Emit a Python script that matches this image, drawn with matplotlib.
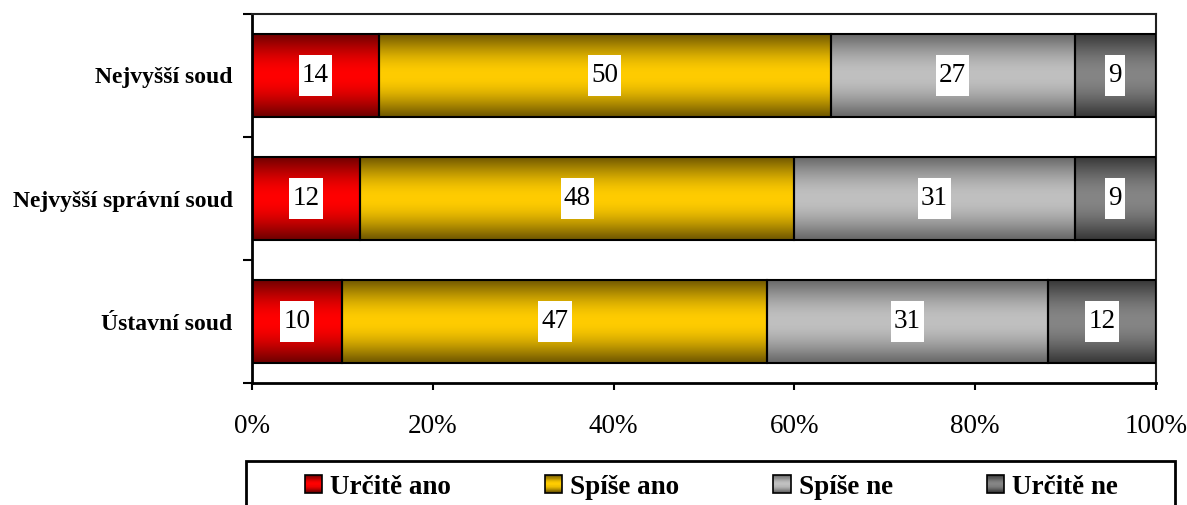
import matplotlib
matplotlib.use('Agg')
import matplotlib.pyplot as plt
import numpy as np
from matplotlib.path import Path
from matplotlib.patches import Rectangle
from matplotlib.legend_handler import HandlerPatch

plt.rcParams['font.family'] = ['Liberation Serif', 'DejaVu Serif']

# data
courts = ['Nejvyšší soud', 'Nejvyšší správní soud', 'Ústavní soud']
answers = ['Určitě ano', 'Spíše ano', 'Spíše ne', 'Určitě ne']
urcite_ano = [14, 12, 10]
spise_ano = [50, 48, 47]
spise_ne = [27, 31, 31]
urcite_ne = [9, 9, 12]
values = [urcite_ano, spise_ano, spise_ne, urcite_ne]
x_ticks = [0, 20, 40, 60, 80, 100]
x_labels = ['0%', '20%', '40%', '60%', '80%', '100%']

# (edge colour, centre colour) of the vertical gradients
grads = [('#700000', '#ff0000'),
         ('#705800', '#ffcc00'),
         ('#686868', '#c0c0c0'),
         ('#383838', '#858585')]


def gradient_img(edge, centre, n=64):
    e = np.array(matplotlib.colors.to_rgb(edge))
    c = np.array(matplotlib.colors.to_rgb(centre))
    t = np.linspace(0, 1, n)
    f = np.sin(np.pi * t) ** 1.1
    return (e[None, :] + (c - e)[None, :] * f[:, None])[:, None, :]


def label_box(x0, y0, width, height, mutation_size):
    px = 0.12 * mutation_size
    py = 0.30 * mutation_size
    x0, y0 = x0 - px, y0 - py
    x1, y1 = x0 + width + 2 * px, y0 + height + 2 * py
    return Path([(x0, y0), (x1, y0), (x1, y1), (x0, y1), (x0, y0)], closed=True)


class GradHandler(HandlerPatch):
    def create_artists(self, legend, orig_handle, xdescent, ydescent,
                       width, height, fontsize, trans):
        s = height * 1.0
        x0 = -xdescent + width - s
        y0 = -ydescent
        arts = []
        img = gradient_img(*orig_handle.grad, n=32)
        n = img.shape[0]
        for i in range(n):
            r = Rectangle((x0, y0 + s * (n - 1 - i) / n), s, s / n + 0.05,
                          facecolor=img[i, 0], edgecolor='none', transform=trans)
            arts.append(r)
        arts.append(Rectangle((x0, y0), s, s, facecolor='none',
                              edgecolor='black', linewidth=1.2, transform=trans))
        return arts


fig = plt.figure(figsize=(11.87, 5.05), dpi=100)
ax = fig.add_axes([252 / 1187, 122 / 505, 904 / 1187, 369 / 505])

ypos = np.arange(len(courts))[::-1]
left = np.zeros(len(courts))
bar_h = 0.675
handles = []
for k, vals in enumerate(values):
    bars = ax.barh(ypos, vals, left=left, height=bar_h, color='none',
                   edgecolor='black', linewidth=1.5, zorder=3)
    img = gradient_img(*grads[k])
    for b, v, l, y in zip(bars, vals, left, ypos):
        im = ax.imshow(img, extent=[l, l + v, y - bar_h / 2, y + bar_h / 2],
                       aspect='auto', interpolation='bilinear', zorder=2)
        im.set_clip_path(b)
        ax.text(l + v / 2, y, str(v), ha='center', va='center', fontsize=19.5,
                zorder=5, bbox=dict(boxstyle=label_box, facecolor='white',
                                    edgecolor='none'))
    h = Rectangle((0, 0), 1, 1)
    h.grad = grads[k]
    handles.append(h)
    left = left + np.array(vals)

ax.set_xlim(0, 100)
ax.set_ylim(-0.5, 2.5)
ax.set_xticks(x_ticks)
ax.set_xticklabels(x_labels, fontsize=19.5)
ax.set_yticks(ypos)
ax.set_yticklabels(courts, fontsize=17, fontweight='bold')
ax.set_yticks([-0.5, 0.5, 1.5, 2.5], minor=True)
ax.tick_params(axis='y', which='major', length=0, pad=14)
ax.tick_params(axis='y', which='minor', length=6.5, width=1.5, direction='out')
ax.tick_params(axis='x', length=5, width=1.5, direction='out', pad=17)
for s in ['left', 'bottom']:
    ax.spines[s].set_linewidth(2)
for s in ['top', 'right']:
    ax.spines[s].set_linewidth(1.5)
    ax.spines[s].set_color('#202020')

# legend frame running past the bottom edge, as in the original
fig.patches.append(Rectangle((246 / 1187, -0.05), 929 / 1187, (505 - 461) / 505 + 0.05,
                             transform=fig.transFigure, facecolor='white',
                             edgecolor='black', linewidth=2))
fig.legend(handles, answers, handler_map={Rectangle: GradHandler()},
           loc='center', bbox_to_anchor=(712 / 1187, 18 / 505), ncol=4,
           frameon=False, prop={'weight': 'bold', 'size': 19.5},
           handlelength=0.6, handleheight=0.6, handletextpad=0.3,
           columnspacing=3.5, borderaxespad=0)

fig.savefig('out.png', dpi=100)
